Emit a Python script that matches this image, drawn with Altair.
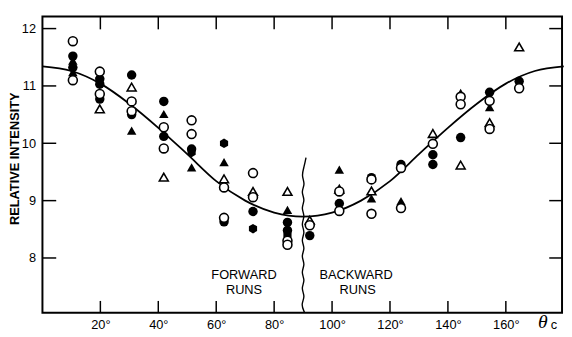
import altair as alt
import pandas as pd

# ---- data ----
pt_theta = [
    10.5, 10.5, 10.5, 10.5, 10.5, 10.5,
    19.8, 19.8, 19.8, 19.8, 19.8, 19.8, 19.8,
    30.8, 30.8, 30.8, 30.8, 30.8, 30.8,
    41.9, 41.9, 41.9, 41.9, 41.9, 41.9,
    51.5, 51.5, 51.5, 51.5, 51.5,
    62.7, 62.7, 62.7, 62.7, 62.7, 62.7,
    72.7, 72.7, 72.7, 72.7, 72.7,
    84.6, 84.6, 84.6, 84.6, 84.6, 84.6, 84.6,
    92.3, 92.3, 92.3,
    102.5, 102.5, 102.5, 102.5, 102.5,
    113.6, 113.6, 113.6, 113.6, 113.6,
    123.8, 123.8, 123.8, 123.8,
    134.8, 134.8, 134.8, 134.8,
    144.4, 144.4, 144.4, 144.4, 144.4,
    154.4, 154.4, 154.4, 154.4, 154.4,
    164.6, 164.6, 164.6,
]
pt_intensity = [
    11.78, 11.52, 11.44, 11.32, 11.24, 11.10,
    11.25, 11.20, 11.12, 11.03, 10.86, 10.77, 10.60,
    11.19, 10.98, 10.73, 10.56, 10.50, 10.22,
    10.73, 10.51, 10.28, 10.12, 9.91, 9.41,
    10.40, 10.16, 9.90, 9.84, 9.58,
    10.00, 9.67, 9.38, 9.23, 8.70, 8.63,
    9.48, 9.16, 9.06, 8.81, 8.51,
    9.16, 8.84, 8.62, 8.48, 8.40, 8.30, 8.23,
    8.66, 8.57, 8.39,
    9.54, 9.20, 9.16, 8.95, 8.82,
    9.40, 9.37, 9.17, 9.04, 8.77,
    9.63, 9.57, 8.99, 8.87,
    10.17, 9.99, 9.80, 9.63,
    10.88, 10.81, 10.68, 10.10, 9.62,
    10.89, 10.74, 10.63, 10.36, 10.25,
    11.68, 11.08, 10.96,
]
pt_kind = [
    "oc", "fc", "ft", "fc", "ft", "oc",
    "oc", "ft", "fc", "fc", "oc", "fc", "ot",
    "fc", "ot", "oc", "oc", "fc", "ft",
    "fc", "ft", "oc", "fc", "oc", "ot",
    "oc", "oc", "fc", "fh", "ft",
    "fh", "ft", "ot", "oc", "oc", "fc",
    "oc", "ot", "oc", "fc", "fh",
    "ot", "ft", "fc", "fc", "fh", "oc", "oc",
    "ot", "oc", "fc",
    "ft", "ot", "oc", "fc", "oc",
    "fc", "oc", "ot", "ft", "oc",
    "fc", "oc", "ft", "oc",
    "ot", "oc", "fc", "fc",
    "ft", "oc", "oc", "fc", "ot",
    "fc", "oc", "ft", "ot", "oc",
    "ot", "fc", "oc",
]

# fitted curve, every 10 degrees
curve_theta = [0, 10, 20, 30, 40, 50, 60, 70, 80, 90, 100, 110, 120, 130, 140, 150, 160, 170, 180]
curve_int = [11.34, 11.26, 11.04, 10.69, 10.27, 9.81, 9.34, 9.00, 8.79, 8.72,
             8.79, 9.00, 9.34, 9.81, 10.27, 10.69, 11.04, 11.26, 11.34]

# wavy divider at 90 degrees
sq_theta = [90.5, 89.2, 90.8, 89.2, 90.8, 89.2, 90.8, 89.2, 90.8, 89.2,
            90.8, 89.2, 90.8, 89.2, 90.8, 89.2, 90.8, 89.4, 90.4, 91.0]
sq_int = [7.05, 7.19, 7.33, 7.47, 7.61, 7.75, 7.89, 8.03, 8.17, 8.31,
          8.45, 8.59, 8.73, 8.87, 9.01, 9.15, 9.29, 9.43, 9.60, 9.75]

x_ticks = [20, 40, 60, 80, 100, 120, 140, 160]
y_ticks = [8, 9, 10, 11, 12]

run_text = ["FORWARD", "RUNS", "BACKWARD", "RUNS"]
run_theta = [69.6, 69.6, 108.3, 108.8]
run_int = [7.70, 7.44, 7.70, 7.44]

# ---- chart ----
W, H = 528, 301
FONT = "Liberation Sans"
xs = alt.Scale(domain=[0, 179.4], nice=False, zero=False)
ys = alt.Scale(domain=[7.045, 12.21], nice=False, zero=False)

pts = pd.DataFrame({"theta": pt_theta, "intensity": pt_intensity, "kind": pt_kind})
curve = pd.DataFrame({"theta": curve_theta, "intensity": curve_int})
squig = pd.DataFrame({"theta": sq_theta, "intensity": sq_int, "i": list(range(len(sq_int)))})
runs = pd.DataFrame({"t": run_text, "theta": run_theta, "intensity": run_int})
xt = pd.DataFrame({"v": x_ticks})
yt = pd.DataFrame({"v": y_ticks})

hexagon = "M0,-1L0.866,-0.5L0.866,0.5L0,1L-0.866,0.5L-0.866,-0.5Z"
shape_scale = alt.Scale(domain=["fc", "oc", "ft", "ot", "fh"],
                        range=["circle", "circle", "triangle-up", "triangle-up", hexagon])

xenc = alt.X("theta:Q", scale=xs, axis=alt.Axis(
    values=x_ticks, labelExpr="datum.value + '°'", ticks=False, domain=False, grid=False,
    labelFont=FONT, labelFontSize=13, labelColor="black", labelPadding=6, title=None))
yenc = alt.Y("intensity:Q", scale=ys, axis=alt.Axis(
    values=y_ticks, format="d", ticks=False, domain=False, grid=False,
    labelFont=FONT, labelFontSize=13, labelColor="black", labelPadding=7,
    title="RELATIVE INTENSITY", titleFont=FONT, titleFontSize=13, titleFontWeight="bold",
    titleColor="black", titleX=-28, titleY=144, titleAlign="center", titleBaseline="middle"))

curve_l = alt.Chart(curve).mark_line(color="black", strokeWidth=1.8, interpolate="monotone").encode(
    x=xenc, y=yenc)
squig_l = alt.Chart(squig).mark_line(color="black", strokeWidth=1.4, interpolate="basis").encode(
    x=alt.X("theta:Q", scale=xs), y=alt.Y("intensity:Q", scale=ys), order="i:Q")

filled = alt.Chart(pts).transform_filter(
    "datum.kind == 'fc' || datum.kind == 'ft' || datum.kind == 'fh'"
).mark_point(filled=True, color="black", opacity=1, size=92).encode(
    x=alt.X("theta:Q", scale=xs), y=alt.Y("intensity:Q", scale=ys),
    shape=alt.Shape("kind:N", scale=shape_scale, legend=None))
opened = alt.Chart(pts).transform_filter(
    "datum.kind == 'oc' || datum.kind == 'ot'"
).mark_point(filled=True, fill="white", stroke="black", strokeWidth=1.6, opacity=1, size=82).encode(
    x=alt.X("theta:Q", scale=xs), y=alt.Y("intensity:Q", scale=ys),
    shape=alt.Shape("kind:N", scale=shape_scale, legend=None))

tick_b = alt.Chart(xt).mark_rule(color="black", strokeWidth=1.5).encode(
    x=alt.X("v:Q", scale=xs), y=alt.value(H), y2=alt.value(H - 12))
tick_t = alt.Chart(xt).mark_rule(color="black", strokeWidth=1.5).encode(
    x=alt.X("v:Q", scale=xs), y=alt.value(0), y2=alt.value(13))
tick_l = alt.Chart(yt).mark_rule(color="black", strokeWidth=1.5).encode(
    y=alt.Y("v:Q", scale=ys), x=alt.value(0), x2=alt.value(14))
tick_r = alt.Chart(yt).mark_rule(color="black", strokeWidth=1.5).encode(
    y=alt.Y("v:Q", scale=ys), x=alt.value(W), x2=alt.value(W - 13))

runs_t = alt.Chart(runs).mark_text(font=FONT, fontSize=13, color="black", baseline="middle").encode(
    x=alt.X("theta:Q", scale=xs), y=alt.Y("intensity:Q", scale=ys), text="t:N")

theta_t = alt.Chart(pd.DataFrame({"t": ["θ"], "theta": [172.8], "intensity": [6.88]})).mark_text(
    font="Liberation Serif", fontStyle="italic", fontSize=20, color="black", baseline="middle").encode(
    x=alt.X("theta:Q", scale=xs), y=alt.Y("intensity:Q", scale=ys), text="t:N")
c_t = alt.Chart(pd.DataFrame({"t": ["c"], "theta": [176.6], "intensity": [6.83]})).mark_text(
    font=FONT, fontSize=13, color="black", baseline="middle").encode(
    x=alt.X("theta:Q", scale=xs), y=alt.Y("intensity:Q", scale=ys), text="t:N")

chart = alt.layer(
    curve_l, squig_l, tick_b, tick_t, tick_l, tick_r, filled, opened, runs_t, theta_t, c_t
).properties(
    width=W, height=H,
    autosize=alt.AutoSizeParams(type="none"),
    padding={"left": 35, "top": 6, "right": 2, "bottom": 24},
    background="white",
).configure_view(stroke="black", strokeWidth=2)

chart.save("out.html", embed_options={"renderer": "svg", "actions": False})
